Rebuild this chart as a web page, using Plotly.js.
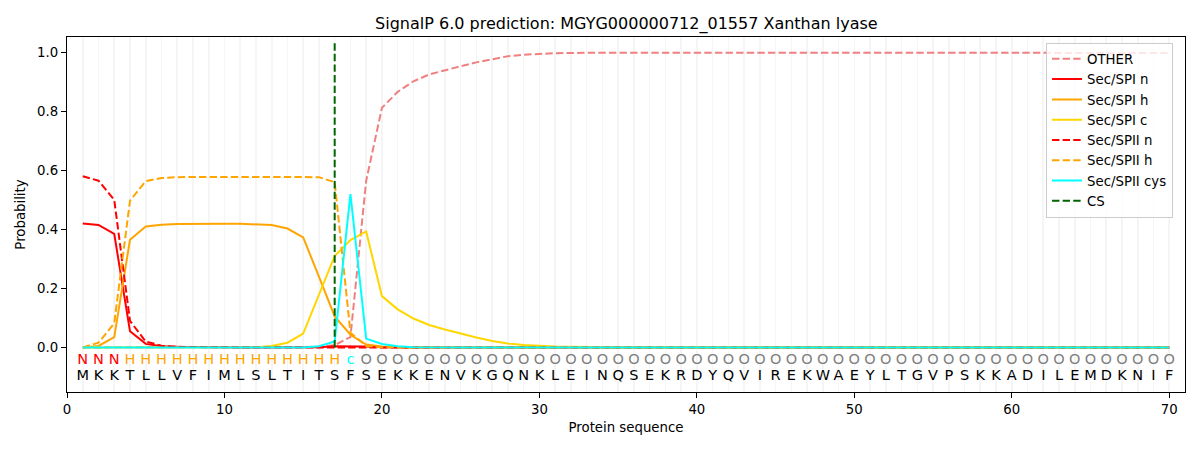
<!DOCTYPE html>
<html>
<head>
<meta charset="utf-8">
<script src="https://cdn.plot.ly/plotly-3.0.1.min.js"></script>
<style>html,body{margin:0;padding:0;background:#fff;}</style>
</head>
<body>
<div id="chart" style="width:1200px;height:450px;"></div>
<script>
const sequence = "MKKTLLVFIMLSLTITSFSEKKENVKGQNKLEINQSEKRDYQVIREKWAEYLTGVPSKKADILEMDKNIF".split("");
const labels = "NNNHHHHHHHHHHHHHHcOOOOOOOOOOOOOOOOOOOOOOOOOOOOOOOOOOOOOOOOOOOOOOOOOOOO".split("");
const positions = sequence.map((_, i) => i + 1);

const other = [0,0,0,0,0,0,0,0,0,0,0,0,0,0,0.001,0.002,0.008,0.035,0.565,0.812,
  0.866,0.902,0.925,0.94,0.953,0.966,0.977,0.987,0.992,0.995,0.997,0.998,0.999,0.999,0.999,0.999,0.999,0.999,0.999,0.999,
  0.999,0.999,0.999,0.999,0.999,0.999,0.999,0.999,0.999,0.999,0.999,0.999,0.999,0.999,0.999,0.999,0.999,0.999,0.999,0.999,
  0.998,0.998,0.998,0.998,0.998,0.998,0.998,0.998,0.998,0.998];
const spiN = [0.42,0.415,0.385,0.055,0.012,0.004,0.002,0.001,0,0,0,0,0,0,0,0.001,0.004,0.004,0.003,0.001,
  0,0,0,0,0,0,0,0,0,0,0,0,0,0,0,0,0,0,0,0,0,0,0,0,0,0,0,0,0,0,0,0,0,0,0,0,0,0,0,0,0,0,0,0,0,0,0,0,0,0];
const spiH = [0,0.005,0.035,0.365,0.41,0.416,0.418,0.419,0.419,0.419,0.419,0.418,0.415,0.403,0.373,0.24,0.105,0.043,0.01,0.003,
  0.001,0,0,0,0,0,0,0,0,0,0,0,0,0,0,0,0,0,0,0,0,0,0,0,0,0,0,0,0,0,0,0,0,0,0,0,0,0,0,0,0,0,0,0,0,0,0,0,0,0];
const spiC = [0,0,0,0,0,0,0,0,0,0,0,0.001,0.005,0.016,0.047,0.18,0.31,0.364,0.393,0.174,
  0.129,0.098,0.076,0.061,0.047,0.034,0.022,0.013,0.008,0.005,0.003,0.002,0.001,0,0,0,0,0,0,0,
  0,0,0,0,0,0,0,0,0,0,0,0,0,0,0,0,0,0,0,0,0,0,0,0,0,0,0,0,0,0];
const spiiN = [0.58,0.565,0.5,0.09,0.02,0.006,0.002,0.001,0,0,0,0,0,0,0,0,0,0,0,0,
  0,0,0,0,0,0,0,0,0,0,0,0,0,0,0,0,0,0,0,0,0,0,0,0,0,0,0,0,0,0,0,0,0,0,0,0,0,0,0,0,0,0,0,0,0,0,0,0,0,0];
const spiiH = [0,0.016,0.082,0.497,0.564,0.574,0.577,0.578,0.578,0.578,0.578,0.578,0.578,0.578,0.578,0.577,0.56,0.05,0.005,0.001,
  0,0,0,0,0,0,0,0,0,0,0,0,0,0,0,0,0,0,0,0,0,0,0,0,0,0,0,0,0,0,0,0,0,0,0,0,0,0,0,0,0,0,0,0,0,0,0,0,0,0];
const spiiCys = [0,0,0,0,0,0,0,0,0,0,0,0,0,0,0,0.004,0.02,0.52,0.03,0.012,
  0.004,0.001,0,0,0,0,0,0,0,0,0,0,0,0,0,0,0,0,0,0,0,0,0,0,0,0,0,0,0,0,0,0,0,0,0,0,0,0,0,0,0,0,0,0,0,0,0,0,0,0];
const csX = [17, 17];
const csY = [0, 1.04];

const labelColors = {N: "#ff0000", H: "#ffa500", c: "#00ffff", O: "#808080"};
const dash = "7.4px,3.2px";
const font = "DejaVu Sans, Liberation Sans, sans-serif";

const traces = [
  {x: positions, y: other, name: "OTHER", mode: "lines", line: {color: "#f08080", width: 2, dash: dash}},
  {x: positions, y: spiN, name: "Sec/SPI n", mode: "lines", line: {color: "#ff0000", width: 2}},
  {x: positions, y: spiH, name: "Sec/SPI h", mode: "lines", line: {color: "#ffa500", width: 2}},
  {x: positions, y: spiC, name: "Sec/SPI c", mode: "lines", line: {color: "#ffd700", width: 2}},
  {x: positions, y: spiiN, name: "Sec/SPII n", mode: "lines", line: {color: "#ff0000", width: 2, dash: dash}},
  {x: positions, y: spiiH, name: "Sec/SPII h", mode: "lines", line: {color: "#ffa500", width: 2, dash: dash}},
  {x: positions, y: spiiCys, name: "Sec/SPII cys", mode: "lines", line: {color: "#00ffff", width: 2}},
  {x: csX, y: csY, name: "CS", mode: "lines", line: {color: "#006400", width: 2, dash: dash}},
  {x: positions, y: positions.map(() => -0.045), text: labels, mode: "text", showlegend: false, hoverinfo: "skip",
   textposition: "middle center", textfont: {family: font, size: 14.5, color: labels.map(l => labelColors[l])}},
  {x: positions, y: positions.map(() => -0.098), text: sequence, mode: "text", showlegend: false, hoverinfo: "skip",
   textposition: "middle center", textfont: {family: font, size: 14.5, color: "#000000"}}
];

const layout = {
  width: 1200, height: 450,
  margin: {l: 67, r: 15, t: 37, b: 58},
  paper_bgcolor: "#ffffff", plot_bgcolor: "#ffffff",
  font: {family: font, size: 13.3, color: "#000000"},
  title: {text: "SignalP 6.0 prediction: MGYG000000712_01557 Xanthan lyase", font: {family: font, size: 16, color: "#000"},
          x: 0.522, xanchor: "center", y: 0.949, yanchor: "middle"},
  xaxis: {
    range: [0, 71], tickmode: "array", tickvals: [0,10,20,30,40,50,60,70],
    showline: true, mirror: true, linecolor: "#000", linewidth: 1.2,
    ticks: "outside", ticklen: 5, tickcolor: "#000", zeroline: false,
    showgrid: false,
    minor: {dtick: 1, tick0: 0, showgrid: true, gridcolor: "#f5f5f5", gridwidth: 1.6, ticks: ""},
    title: {text: "Protein sequence", font: {family: font, size: 13.3}, standoff: 6}
  },
  yaxis: {
    range: [-0.151, 1.052], tickmode: "array", tickvals: [0,0.2,0.4,0.6,0.8,1.0],
    ticktext: ["0.0","0.2","0.4","0.6","0.8","1.0"],
    showline: true, mirror: true, linecolor: "#000", linewidth: 1.2,
    ticks: "outside", ticklen: 5, tickcolor: "#000", zeroline: false, showgrid: false,
    title: {text: "Probability", font: {family: font, size: 13.3}, standoff: 8}
  },
  legend: {
    x: 0.8757, y: 0.984, xanchor: "left", yanchor: "top",
    bgcolor: "rgba(255,255,255,0.8)", bordercolor: "#cccccc", borderwidth: 1,
    font: {family: font, size: 13.3, color: "#000"}, tracegroupgap: 0
  },
  showlegend: true
};

Plotly.newPlot("chart", traces, layout, {staticPlot: true, displayModeBar: false});
</script>
</body>
</html>
